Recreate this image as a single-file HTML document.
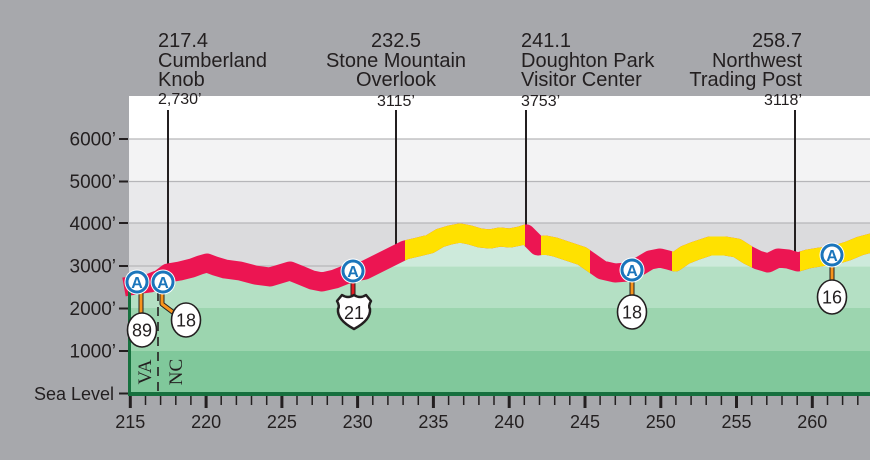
<!DOCTYPE html>
<html><head><meta charset="utf-8"><style>
html,body{margin:0;padding:0;background:#a7a8ac;}
svg{display:block;}
</style></head><body>
<svg width="870" height="460" viewBox="0 0 870 460" xmlns="http://www.w3.org/2000/svg" font-family="'Liberation Sans', Arial, sans-serif">
<defs>
<clipPath id="fillclip"><path d="M130,393 L130,286 L135,285 L150,283 L160,279 L168,273 L180,271 L192,268 L200,265 L207,263 L215,266 L225,269 L240,271 L255,275 L270,277 L280,274 L290,271 L300,275 L312,280 L322,282 L335,279 L345,275 L355,272 L365,270 L375,265 L385,260 L395,255 L405,250 L418,247 L430,244 L440,238 L450,235 L460,233 L470,235 L480,238 L490,239 L500,237 L510,238 L520,236 L526,234 L532,240 L538,246 L545,245 L555,247 L570,252 L582,256 L592,263 L602,270 L615,273 L628,272 L640,266 L650,260 L660,258 L668,260 L675,262 L685,255 L695,251 L710,246 L725,246 L737,248 L748,255 L758,260 L768,263 L778,258 L788,259 L798,262 L808,259 L820,257 L835,255 L848,251 L860,246 L875,242 L875,393 Z"/></clipPath>
<clipPath id="yc"><rect x="405" y="0" width="120" height="460"/><rect x="541" y="0" width="49" height="460"/><rect x="672" y="0" width="80" height="460"/><rect x="800" y="0" width="80" height="460"/></clipPath>
</defs>
<rect x="0" y="0" width="870" height="460" fill="#a7a8ac"/>
<!-- gray bands -->
<rect x="129" y="96" width="741" height="43" fill="#ffffff"/>
<rect x="129" y="139" width="741" height="43" fill="#f3f3f4"/>
<rect x="129" y="182" width="741" height="41" fill="#e9e9eb"/>
<rect x="129" y="223" width="741" height="170" fill="#dbdbdd"/>
<g stroke="#b6b6b9" stroke-width="1.2">
<line x1="129" y1="139" x2="870" y2="139"/>
<line x1="129" y1="181.5" x2="870" y2="181.5"/>
<line x1="129" y1="223" x2="870" y2="223"/>
<line x1="129" y1="266" x2="870" y2="266"/>
</g>
<!-- green fill bands -->
<g clip-path="url(#fillclip)">
<rect x="129" y="96" width="741" height="170" fill="#cdeadb"/>
<rect x="129" y="266" width="741" height="42" fill="#b4e0c4"/>
<rect x="129" y="308" width="741" height="43" fill="#9cd5af"/>
<rect x="129" y="351" width="741" height="42" fill="#80c89b"/>
<line x1="129" y1="266.5" x2="870" y2="266.5" stroke="#c4e7d1" stroke-width="1"/>
</g>
<!-- leader lines -->
<g stroke="#231f20" stroke-width="2">
<line x1="168" y1="110" x2="168" y2="266"/>
<line x1="396" y1="110" x2="396" y2="252"/>
<line x1="526" y1="110" x2="526" y2="236"/>
<line x1="795" y1="110" x2="795" y2="258"/>
</g>
<!-- VA/NC dashed -->
<line x1="158" y1="292" x2="158" y2="393" stroke="#231f20" stroke-width="1.6" stroke-dasharray="9,6"/>
<text transform="translate(151,372) rotate(-90)" text-anchor="middle" font-family="'Liberation Serif', serif" font-size="19" fill="#231f20">VA</text>
<text transform="translate(182,372) rotate(-90)" text-anchor="middle" font-family="'Liberation Serif', serif" font-size="19" fill="#231f20">NC</text>
<!-- profile stroke -->
<polyline fill="none" stroke="#ec1552" stroke-width="19" stroke-linejoin="round" points="124,287 135,285 150,283 160,279 168,273 180,271 192,268 200,265 207,263 215,266 225,269 240,271 255,275 270,277 280,274 290,271 300,275 312,280 322,282 335,279 345,275 355,272 365,270 375,265 385,260 395,255 405,250 418,247 430,244 440,238 450,235 460,233 470,235 480,238 490,239 500,237 510,238 520,236 526,234 532,240 538,246 545,245 555,247 570,252 582,256 592,263 602,270 615,273 628,272 640,266 650,260 660,258 668,260 675,262 685,255 695,251 710,246 725,246 737,248 748,255 758,260 768,263 778,258 788,259 798,262 808,259 820,257 835,255 848,251 860,246 875,242"/>
<polyline clip-path="url(#yc)" fill="none" stroke="#ffe100" stroke-width="19" stroke-linejoin="round" points="124,287 135,285 150,283 160,279 168,273 180,271 192,268 200,265 207,263 215,266 225,269 240,271 255,275 270,277 280,274 290,271 300,275 312,280 322,282 335,279 345,275 355,272 365,270 375,265 385,260 395,255 405,250 418,247 430,244 440,238 450,235 460,233 470,235 480,238 490,239 500,237 510,238 520,236 526,234 532,240 538,246 545,245 555,247 570,252 582,256 592,263 602,270 615,273 628,272 640,266 650,260 660,258 668,260 675,262 685,255 695,251 710,246 725,246 737,248 748,255 758,260 768,263 778,258 788,259 798,262 808,259 820,257 835,255 848,251 860,246 875,242"/>
<!-- axis -->
<rect x="128" y="288" width="3" height="108" fill="#16703e"/>
<rect x="128" y="392" width="742" height="4" fill="#16703e"/>
<!-- minor ticks -->
<path stroke="#231f20" stroke-width="1.5" d="M145.5,396V405M160.6,396V405M175.8,396V405M190.9,396V405M221.2,396V405M236.4,396V405M251.5,396V405M266.7,396V405M297,396V405M312.2,396V405M327.3,396V405M342.5,396V405M372.8,396V405M387.9,396V405M403.1,396V405M418.3,396V405M448.6,396V405M463.7,396V405M478.9,396V405M494,396V405M524.3,396V405M539.5,396V405M554.7,396V405M569.8,396V405M600.1,396V405M615.3,396V405M630.4,396V405M645.6,396V405M675.9,396V405M691.1,396V405M706.2,396V405M721.4,396V405M751.7,396V405M766.8,396V405M782,396V405M797.2,396V405M827.5,396V405M842.6,396V405M857.8,396V405"/>
<path stroke="#231f20" stroke-width="3" d="M130.3,396V408M206.1,396V408M281.9,396V408M357.6,396V408M433.4,396V408M509.2,396V408M585,396V408M660.8,396V408M736.5,396V408M812.3,396V408"/>
<!-- y ticks -->
<path stroke="#231f20" stroke-width="2" d="M119,139H128M119,181.5H128M119,223H128M119,266H128M119,308.5H128M119,351H128M119,393.5H128"/>
<!-- x labels -->
<g font-size="18" fill="#231f20" text-anchor="middle">
<text x="130.3" y="428">215</text>
<text x="206.1" y="428">220</text>
<text x="281.9" y="428">225</text>
<text x="357.6" y="428">230</text>
<text x="433.4" y="428">235</text>
<text x="509.2" y="428">240</text>
<text x="585" y="428">245</text>
<text x="660.8" y="428">250</text>
<text x="736.5" y="428">255</text>
<text x="812.3" y="428">260</text>
</g>
<!-- y labels -->
<g font-size="19" fill="#231f20" text-anchor="end">
<text x="116" y="145.5">6000’</text>
<text x="116" y="188">5000’</text>
<text x="116" y="230">4000’</text>
<text x="116" y="272.5">3000’</text>
<text x="116" y="315">2000’</text>
<text x="116" y="357.5">1000’</text>
<text x="114" y="400" font-size="18">Sea Level</text>
</g>
<!-- top labels -->
<g font-size="20" fill="#231f20">
<text x="158" y="47">217.4</text>
<text x="158" y="67">Cumberland</text>
<text x="158" y="86">Knob</text>
<text x="396" y="47" text-anchor="middle">232.5</text>
<text x="396" y="67" text-anchor="middle">Stone Mountain</text>
<text x="396" y="86" text-anchor="middle">Overlook</text>
<text x="521" y="47">241.1</text>
<text x="521" y="67">Doughton Park</text>
<text x="521" y="86">Visitor Center</text>
<text x="802" y="47" text-anchor="end">258.7</text>
<text x="802" y="67" text-anchor="end">Northwest</text>
<text x="802" y="86" text-anchor="end">Trading Post</text>
</g>
<g font-size="16" fill="#231f20">
<text x="158" y="104">2,730’</text>
<text x="396" y="106" text-anchor="middle">3115’</text>
<text x="521" y="106">3753’</text>
<text x="802" y="105" text-anchor="end">3118’</text>
</g>
<!-- stems -->
<g fill="none" stroke-linejoin="round">
<path d="M141,290V315" stroke="#231f20" stroke-width="5"/>
<path d="M141,290V315" stroke="#f7941d" stroke-width="3"/>
<path d="M162,290V304L174,313" stroke="#231f20" stroke-width="5"/>
<path d="M162,290V304L174,313" stroke="#f7941d" stroke-width="3"/>
<path d="M353,280V297" stroke="#231f20" stroke-width="5"/>
<path d="M353,280V297" stroke="#e31e24" stroke-width="3"/>
<path d="M632,279V296" stroke="#231f20" stroke-width="5"/>
<path d="M632,279V296" stroke="#f7941d" stroke-width="3"/>
<path d="M832,264V281" stroke="#231f20" stroke-width="5"/>
<path d="M832,264V281" stroke="#f7941d" stroke-width="3"/>
</g>
<!-- ovals -->
<g fill="#ffffff" stroke="#231f20" stroke-width="1.6">
<ellipse cx="142" cy="330" rx="14.5" ry="17"/>
<ellipse cx="186" cy="320" rx="14.5" ry="17"/>
<ellipse cx="632" cy="312" rx="14.5" ry="17"/>
<ellipse cx="832" cy="297" rx="14.5" ry="17"/>
</g>
<g font-size="18" fill="#231f20" text-anchor="middle">
<text x="142" y="336.5">89</text>
<text x="186" y="326.5">18</text>
<text x="632" y="318.5">18</text>
<text x="832" y="303.5">16</text>
</g>
<!-- US shield -->
<path transform="translate(354,312)" d="M-12,-17 Q-6,-13 0,-17 Q6,-13 12,-17 L17,-11 Q14,-6 16,-3 Q17,8 0,17 Q-17,8 -16,-3 Q-14,-6 -17,-11 Z" fill="#ffffff" stroke="#231f20" stroke-width="2.5" stroke-linejoin="round"/>
<text x="354" y="319" font-size="18" fill="#231f20" text-anchor="middle">21</text>
<!-- A icons -->
<g>
<circle cx="137" cy="282" r="12.5" fill="#ffffff"/>
<circle cx="137" cy="282" r="10" fill="#ffffff" stroke="#1b75bb" stroke-width="3"/>
<text x="137" y="288" font-size="16" font-weight="bold" fill="#1b75bb" text-anchor="middle">A</text>
<circle cx="163" cy="282" r="12.5" fill="#ffffff"/>
<circle cx="163" cy="282" r="10" fill="#ffffff" stroke="#1b75bb" stroke-width="3"/>
<text x="163" y="288" font-size="16" font-weight="bold" fill="#1b75bb" text-anchor="middle">A</text>
<circle cx="353" cy="271" r="12.5" fill="#ffffff"/>
<circle cx="353" cy="271" r="10" fill="#ffffff" stroke="#1b75bb" stroke-width="3"/>
<text x="353" y="277" font-size="16" font-weight="bold" fill="#1b75bb" text-anchor="middle">A</text>
<circle cx="632" cy="270" r="12.5" fill="#ffffff"/>
<circle cx="632" cy="270" r="10" fill="#ffffff" stroke="#1b75bb" stroke-width="3"/>
<text x="632" y="276" font-size="16" font-weight="bold" fill="#1b75bb" text-anchor="middle">A</text>
<circle cx="832" cy="255" r="12.5" fill="#ffffff"/>
<circle cx="832" cy="255" r="10" fill="#ffffff" stroke="#1b75bb" stroke-width="3"/>
<text x="832" y="261" font-size="16" font-weight="bold" fill="#1b75bb" text-anchor="middle">A</text>
</g>
</svg>
</body></html>
